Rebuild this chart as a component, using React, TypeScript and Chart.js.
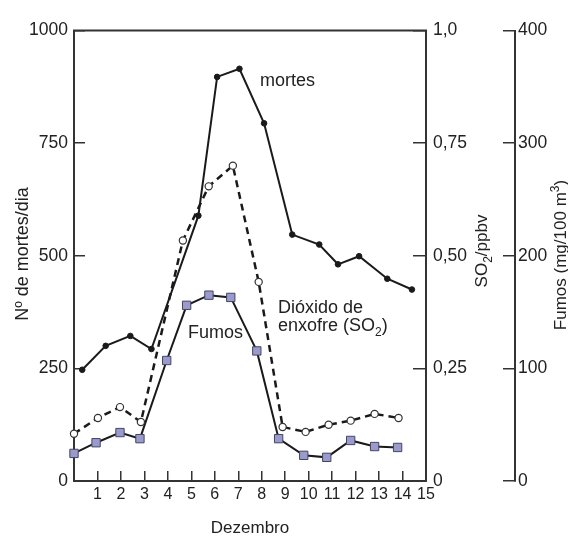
import React, { useEffect, useRef } from 'react';
import { Chart, registerables } from 'chart.js';

Chart.register(...registerables);

// ---- data ----
const mortesDay = [0.35, 1.35, 2.4, 3.3, 5.3, 6.1, 7.05, 8.1, 9.3, 10.45, 11.25, 12.15, 13.35, 14.4];
const mortes = [247, 300, 322, 293, 589, 897, 915, 794, 547, 525, 481, 499, 449, 425];

const so2Day = [0, 1.02, 1.96, 2.85, 4.64, 5.74, 6.77, 7.87, 8.89, 9.87, 10.85, 11.79, 12.81, 13.83];
const so2 = [0.105, 0.14, 0.164, 0.131, 0.534, 0.654, 0.7, 0.442, 0.12, 0.109, 0.125, 0.134, 0.149, 0.14];

const fumosDay = [0, 0.94, 1.96, 2.81, 3.95, 4.8, 5.75, 6.68, 7.79, 8.72, 9.79, 10.77, 11.79, 12.81, 13.79];
const fumos = [24.5, 34, 43, 37.6, 107, 156, 165, 163, 115.5, 37.6, 22.8, 21, 36, 30.6, 29.8];

const dayRange = [0, 15];
const mortesRange = [0, 1000];
const so2Range = [0, 1];
const fumosRange = [0, 400];

const FONT = "'Liberation Sans', Arial, Helvetica, sans-serif";
const INK = '#222222';
const AXIS = '#333333';

type Seg = { t: string; sub?: boolean; sup?: boolean };

function drawSegs(ctx: CanvasRenderingContext2D, segs: Seg[], x: number, y: number, size: number, center: boolean) {
  const small = Math.round(size * 0.68);
  let total = 0;
  for (const s of segs) {
    ctx.font = `${s.sub || s.sup ? small : size}px ${FONT}`;
    total += ctx.measureText(s.t).width;
  }
  let cx = center ? x - total / 2 : x;
  for (const s of segs) {
    ctx.font = `${s.sub || s.sup ? small : size}px ${FONT}`;
    const dy = s.sub ? size * 0.28 : s.sup ? -size * 0.42 : 0;
    ctx.fillText(s.t, cx, y + dy);
    cx += ctx.measureText(s.t).width;
  }
}

function drawRotated(ctx: CanvasRenderingContext2D, segs: Seg[], xBase: number, yCenter: number, size: number) {
  ctx.save();
  ctx.translate(xBase, yCenter);
  ctx.rotate(-Math.PI / 2);
  drawSegs(ctx, segs, 0, 0, size, true);
  ctx.restore();
}

const textPlugin = {
  id: 'textPlugin',
  beforeDatasetsDraw(chart: any) {
    const { ctx, chartArea } = chart;
    ctx.save();
    ctx.strokeStyle = AXIS;
    ctx.lineWidth = 2;
    ctx.beginPath();
    ctx.moveTo(chartArea.left - 1, chartArea.top);
    ctx.lineTo(chartArea.right + 1, chartArea.top);
    ctx.stroke();
    ctx.restore();
  },
  afterDraw(chart: any) {
    const { ctx } = chart;
    ctx.save();
    ctx.fillStyle = INK;
    ctx.textBaseline = 'alphabetic';
    ctx.textAlign = 'left';
    // axis titles (rotated, reading bottom to top)
    drawRotated(ctx, [{ t: 'Nº de mortes/dia' }], 28, 254, 18);
    drawRotated(ctx, [{ t: 'SO' }, { t: '2', sub: true }, { t: '/ppbv' }], 487, 251, 17);
    drawRotated(ctx, [{ t: 'Fumos (mg/100 m' }, { t: '3', sup: true }, { t: ')' }], 566, 255, 17);
    // series annotations
    drawSegs(ctx, [{ t: 'mortes' }], 260, 86, 18, false);
    drawSegs(ctx, [{ t: 'Dióxido de' }], 278, 313, 18, false);
    drawSegs(ctx, [{ t: 'enxofre (SO' }, { t: '2', sub: true }, { t: ')' }], 278, 331, 18, false);
    drawSegs(ctx, [{ t: 'Fumos' }], 188, 338, 18, false);
    ctx.restore();
  },
};

export default function App() {
  const ref = useRef<HTMLCanvasElement>(null);

  useEffect(() => {
    document.body.style.margin = '0';
    const canvas = ref.current;
    if (!canvas) return;

    const pts = (xs: number[], ys: number[]) => xs.map((x, i) => ({ x, y: ys[i] }));

    const chart = new Chart(canvas, {
      type: 'line',
      data: {
        datasets: [
          {
            label: 'mortes',
            data: pts(mortesDay, mortes),
            yAxisID: 'y',
            borderColor: '#1a1a1a',
            borderWidth: 2,
            pointRadius: 2.8,
            pointBackgroundColor: '#1a1a1a',
            pointBorderColor: '#1a1a1a',
            pointBorderWidth: 1,
            tension: 0,
            clip: false as any,
          },
          {
            label: 'SO2',
            data: pts(so2Day, so2),
            yAxisID: 'y2',
            borderColor: '#1a1a1a',
            borderWidth: 2.5,
            borderDash: [7, 5],
            pointRadius: 3.6,
            pointBackgroundColor: '#ffffff',
            pointBorderColor: '#333333',
            pointBorderWidth: 1.2,
            tension: 0,
            clip: false as any,
          },
          {
            label: 'Fumos',
            data: pts(fumosDay, fumos),
            yAxisID: 'y3',
            borderColor: '#1a1a1a',
            borderWidth: 2,
            pointStyle: 'rect',
            pointRadius: 5.9,
            pointBackgroundColor: '#9a9acb',
            pointBorderColor: '#444466',
            pointBorderWidth: 1,
            tension: 0,
            clip: false as any,
          },
        ],
      },
      options: {
        responsive: false,
        animation: false,
        devicePixelRatio: 1,
        layout: { padding: { top: 24, left: 0, right: 0, bottom: 0 } },
        plugins: {
          legend: { display: false },
          tooltip: { enabled: false },
        },
        scales: {
          x: {
            type: 'linear',
            position: 'bottom',
            min: dayRange[0],
            max: dayRange[1],
            ticks: {
              stepSize: 1,
              autoSkip: false,
              maxRotation: 0,
              padding: 14,
              color: INK,
              font: { family: FONT, size: 16 },
              callback: (v: any) => (v === 0 ? '' : String(v)),
            },
            grid: { drawOnChartArea: false, drawTicks: true, tickLength: -10, color: AXIS, lineWidth: 1.5 },
            border: { display: true, color: AXIS, width: 2 },
            title: {
              display: true,
              text: 'Dezembro',
              color: INK,
              font: { family: FONT, size: 17, lineHeight: 0.85 },
              padding: { top: 0, bottom: 0 },
            },
            afterFit: (s: any) => {
              s.height = 55;
            },
          },
          y: {
            type: 'linear',
            position: 'left',
            min: mortesRange[0],
            max: mortesRange[1],
            ticks: {
              stepSize: 250,
              padding: 17,
              color: INK,
              font: { family: FONT, size: 17.5 },
              callback: (v: any) => String(v),
            },
            grid: { drawOnChartArea: false, drawTicks: true, tickLength: -11, color: AXIS, lineWidth: 1.5 },
            border: { display: true, color: AXIS, width: 2 },
            afterFit: (s: any) => {
              s.width = 74;
            },
          },
          y2: {
            type: 'linear',
            position: 'right',
            weight: 0,
            min: so2Range[0],
            max: so2Range[1],
            ticks: {
              stepSize: 0.25,
              padding: 20,
              color: INK,
              font: { family: FONT, size: 17.5 },
              callback: (v: any) => {
                const n = Number(v);
                if (n === 0) return '0';
                if (Math.abs(n - 1) < 1e-9) return '1,0';
                return n.toFixed(2).replace('.', ',');
              },
            },
            grid: { drawOnChartArea: false, drawTicks: true, tickLength: -13, color: AXIS, lineWidth: 1.5 },
            border: { display: true, color: AXIS, width: 2 },
            afterFit: (s: any) => {
              s.width = 89;
            },
          },
          y3: {
            type: 'linear',
            position: 'right',
            weight: 1,
            min: fumosRange[0],
            max: fumosRange[1],
            ticks: {
              stepSize: 100,
              padding: 15,
              color: INK,
              font: { family: FONT, size: 17.5 },
              callback: (v: any) => String(v),
            },
            grid: { drawOnChartArea: false, drawTicks: true, tickLength: -12, color: AXIS, lineWidth: 1.5 },
            border: { display: true, color: AXIS, width: 2 },
            afterFit: (s: any) => {
              s.width = 53;
            },
          },
        },
      } as any,
      plugins: [textPlugin],
    });

    return () => chart.destroy();
  }, []);

  return <canvas ref={ref} width={568} height={536} style={{ display: 'block' }} />;
}
